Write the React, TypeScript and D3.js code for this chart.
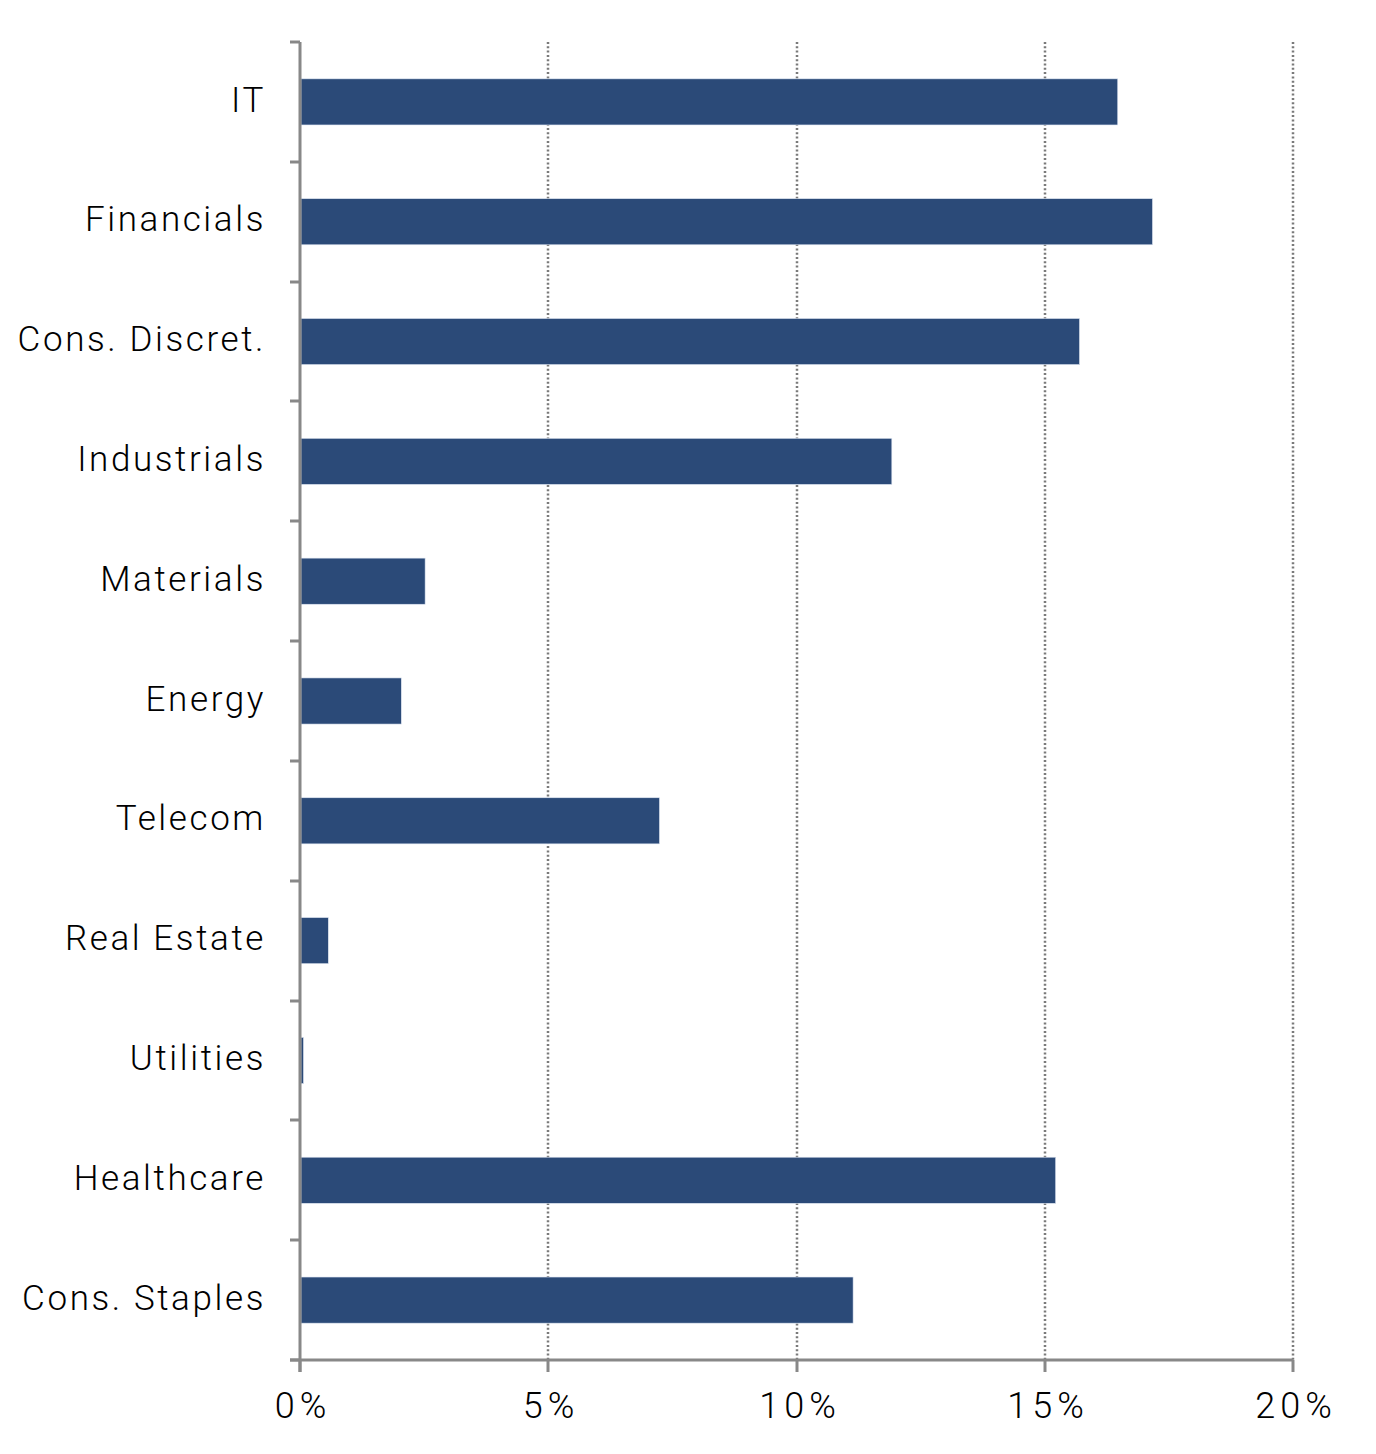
import React from 'react';
import * as d3 from 'd3';

const sectors = [
  'IT',
  'Financials',
  'Cons. Discret.',
  'Industrials',
  'Materials',
  'Energy',
  'Telecom',
  'Real Estate',
  'Utilities',
  'Healthcare',
  'Cons. Staples',
];
const weights = [16.45, 17.15, 15.68, 11.9, 2.5, 2.02, 7.22, 0.55, 0.05, 15.2, 11.12];
const xTicks = [0, 5, 10, 15, 20];

const WIDTH = 1376;
const HEIGHT = 1454;
const FONT = 'Roboto, "Open Sans", sans-serif';

export default function App() {
  const x = d3.scaleLinear().domain([0, 20]).range([300, 1293]);
  const y = d3
    .scaleBand()
    .domain(sectors)
    .range([42, 1360])
    .paddingInner(0.615)
    .paddingOuter(0.3075);

  const step = y.step();
  const top = 42;
  const bottom = 1360;
  // tick marks sit on the band boundaries
  const bandEdges = d3.range(sectors.length + 1).map((i) => Math.round(top + i * step));
  const gx = (t: number) => Math.round(x(t));

  return (
    <svg
      width={WIDTH}
      height={HEIGHT}
      style={{ position: 'absolute', left: 0, top: 0, background: '#fff' }}
    >
      {/* dotted grid lines */}
      {xTicks.slice(1).map((t) => (
        <line
          key={'g' + t}
          x1={gx(t)}
          x2={gx(t)}
          y1={top}
          y2={bottom}
          stroke="#7a7a7a"
          strokeWidth={2.5}
          strokeDasharray="2 2.3"
        />
      ))}

      {/* bars */}
      {sectors.map((s, i) => (
        <rect
          key={s}
          x={x(0) + 1}
          y={y(s)}
          width={Math.max(1, x(weights[i]) - x(0))}
          height={y.bandwidth()}
          fill="#2B4A78"
          stroke="#dfe6f2"
          strokeWidth={0.6}
        />
      ))}

      {/* y axis */}
      <line x1={x(0)} x2={x(0)} y1={top} y2={bottom + 12} stroke="#888" strokeWidth={3} />
      {bandEdges.map((e, i) => (
        <line key={'yt' + i} x1={x(0) - 10} x2={x(0)} y1={e} y2={e} stroke="#888" strokeWidth={3} />
      ))}

      {/* x axis */}
      <line x1={x(0) - 10} x2={x(20)} y1={bottom} y2={bottom} stroke="#888" strokeWidth={3} />
      {xTicks.map((t) => (
        <line key={'xt' + t} x1={gx(t)} x2={gx(t)} y1={bottom} y2={bottom + 12} stroke="#888" strokeWidth={3} />
      ))}

      {/* category labels */}
      {sectors.map((s) => (
        <text
          key={'l' + s}
          x={266}
          y={y(s) + y.bandwidth() / 2 - 3}
          dy="0.36em"
          textAnchor="end"
          fontFamily={FONT}
          fontWeight={300}
          fontSize={35}
          letterSpacing={2.6}
          fill="#000"
        >
          {s}
        </text>
      ))}

      {/* x tick labels */}
      {xTicks.map((t) => (
        <text
          key={'xl' + t}
          x={gx(t) + 3}
          y={1418}
          textAnchor="middle"
          fontFamily={FONT}
          fontWeight={300}
          fontSize={36}
          letterSpacing={5}
          fill="#000"
        >
          {t + '%'}
        </text>
      ))}
    </svg>
  );
}
